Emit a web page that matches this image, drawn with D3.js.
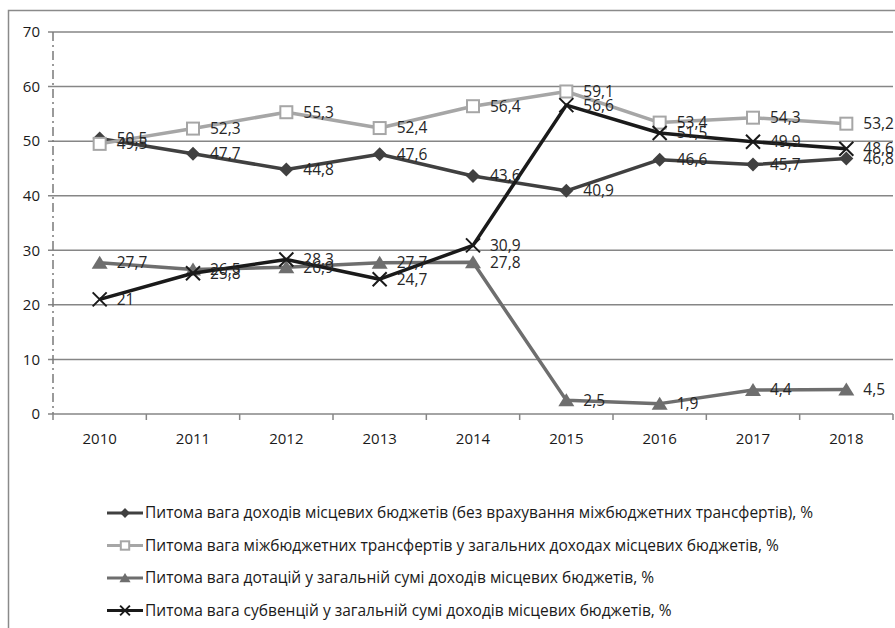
<!DOCTYPE html>
<html><head><meta charset="utf-8">
<script src="https://cdn.jsdelivr.net/npm/d3@7/dist/d3.min.js"></script>
<style>
body{margin:0;background:#fff;}
svg{display:block;font-family:"Open Sans",sans-serif;}
</style></head>
<body><svg id="c" width="895" height="628"></svg>
<script>
const years = ["2010","2011","2012","2013","2014","2015","2016","2017","2018"];
const ownRevenue = [50.5,47.7,44.8,47.6,43.6,40.9,46.6,45.7,46.8];
const transfers = [49.5,52.3,55.3,52.4,56.4,59.1,53.4,54.3,53.2];
const dotations = [27.7,26.5,26.9,27.7,27.8,2.5,1.9,4.4,4.5];
const subventions = [21,25.8,28.3,24.7,30.9,56.6,51.5,49.9,48.6];
const yTicks = [0,10,20,30,40,50,60,70];
const seriesNames = [
 "Питома вага доходів місцевих бюджетів (без врахування міжбюджетних трансфертів), %",
 "Питома вага міжбюджетних трансфертів у загальних доходах місцевих бюджетів, %",
 "Питома вага дотацій у загальній сумі доходів місцевих бюджетів, %",
 "Питома вага субвенцій у загальній сумі доходів місцевих бюджетів, %"
];

const series = [
 {name:seriesNames[0], values:ownRevenue, color:"#404040", marker:"diamond", w:3.5},
 {name:seriesNames[1], values:transfers, color:"#a6a6a6", marker:"square", w:3.5},
 {name:seriesNames[2], values:dotations, color:"#6e6e6e", marker:"triangle", w:3.5},
 {name:seriesNames[3], values:subventions, color:"#1a1a1a", marker:"x", w:3.5}
];

const svg = d3.select("#c");
svg.append("path").attr("d","M8.5,628 V10.5 H895").attr("fill","none").attr("stroke","#8a8a8a").attr("stroke-width",1.5);

const L=53, R=893, T=32, B=414;
const x = d3.scaleBand().domain(years).range([L,R]);
const y = d3.scaleLinear().domain([0,70]).range([B,T]);

svg.append("g").selectAll("line").data(yTicks).join("line")
  .attr("x1",L-5).attr("x2",R).attr("y1",d=>y(d)).attr("y2",d=>y(d))
  .attr("stroke","#868686").attr("stroke-width",1.5);
svg.append("line").attr("x1",L).attr("x2",L).attr("y1",T).attr("y2",B)
  .attr("stroke","#7a7a7a").attr("stroke-width",1.5).attr("stroke-dasharray","9,4,2,4");
svg.append("g").selectAll("text").data(yTicks).join("text")
  .attr("x",L-13).attr("y",d=>y(d)).attr("dy","0.35em").attr("text-anchor","end")
  .attr("font-size",15).attr("fill","#1a1a1a").text(d=>d);
const xAxis = d3.axisBottom(x).tickSize(0).tickPadding(19);
const gx = svg.append("g").attr("transform",`translate(0,${B})`).call(xAxis);
gx.select(".domain").remove();
gx.selectAll("text").attr("font-size",15).attr("fill","#1a1a1a").attr("font-family","'Open Sans',sans-serif");
const bounds = years.map(d=>x(d)).concat([R]);
svg.append("g").selectAll("line").data(bounds).join("line")
  .attr("x1",d=>d).attr("x2",d=>d).attr("y1",B).attr("y2",B+6)
  .attr("stroke","#868686").attr("stroke-width",1.5);

const cx = d=>x(d)+x.bandwidth()/2;
const line = d3.line().x((v,i)=>cx(years[i])).y(v=>y(v));

function drawMarker(g, type, color, px, py, s){
  s = s||1;
  if(type==="diamond"){
    g.append("path").attr("d",`M${px},${py-7*s}L${px+7*s},${py}L${px},${py+7*s}L${px-7*s},${py}Z`).attr("fill",color);
  } else if(type==="square"){
    g.append("rect").attr("x",px-6*s).attr("y",py-6*s).attr("width",12*s).attr("height",12*s)
      .attr("fill","#fff").attr("stroke",color).attr("stroke-width",2);
  } else if(type==="triangle"){
    g.append("path").attr("d",`M${px},${py-7*s}L${px+8*s},${py+6*s}L${px-8*s},${py+6*s}Z`).attr("fill",color);
  } else {
    g.append("path").attr("d",`M${px-7*s},${py-7*s}L${px+7*s},${py+7*s}M${px+7*s},${py-7*s}L${px-7*s},${py+7*s}`)
      .attr("stroke",color).attr("stroke-width",2);
  }
}

series.forEach(s=>{
  const g = svg.append("g");
  g.append("path").attr("d",line(s.values)).attr("fill","none").attr("stroke",s.color).attr("stroke-width",s.w).attr("stroke-linejoin","round");
  s.values.forEach((v,i)=>drawMarker(g,s.marker,s.color,cx(years[i]),y(v)));
});
series.forEach(s=>{
  svg.append("g").selectAll("text").data(s.values).join("text")
    .attr("x",(v,i)=>cx(years[i])+17).attr("y",v=>y(v)).attr("dy","0.35em")
    .attr("font-size",15.5).attr("fill","#262626").text(v=>String(v).replace(".",","));
});

const lg = svg.append("g");
series.forEach((s,i)=>{
  const ly = 513 + i*32.5;
  lg.append("line").attr("x1",107).attr("x2",143).attr("y1",ly).attr("y2",ly).attr("stroke",s.color).attr("stroke-width",3);
  drawMarker(lg,s.marker,s.color,125,ly,0.7);
  lg.append("text").attr("x",145).attr("y",ly).attr("dy","0.35em").attr("font-size",15.5).attr("fill","#1a1a1a").text(s.name);
});
</script></body></html>
